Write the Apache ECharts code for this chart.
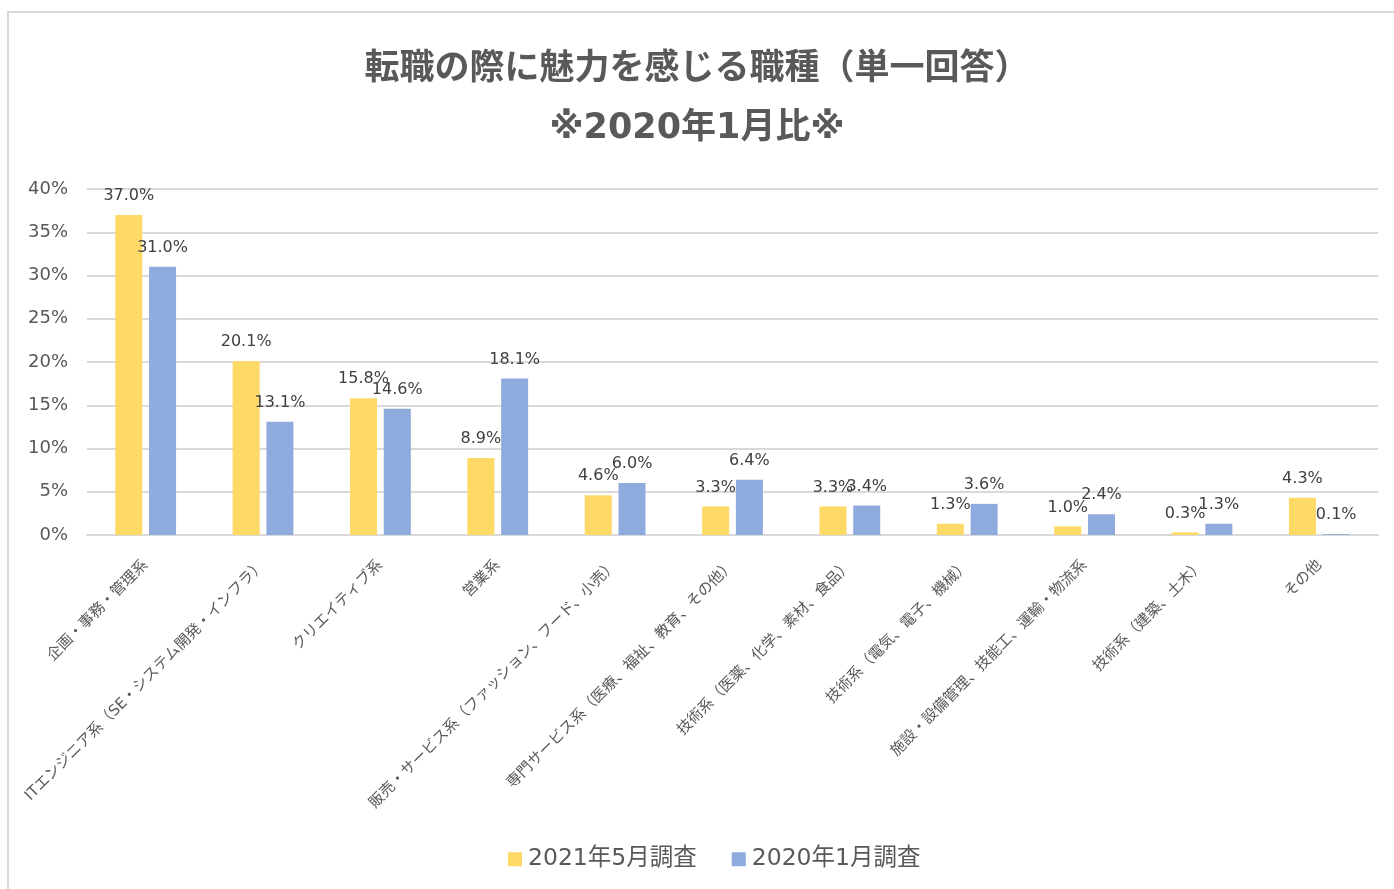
<!DOCTYPE html>
<html>
<head>
<meta charset="utf-8">
<script src="https://cdn.jsdelivr.net/npm/echarts@6/dist/echarts.min.js"></script>
<style>
	html, body { margin: 0; padding: 0; background: #fff; }
	#frame { position: absolute; left: 7px; top: 11px; width: 1400px; height: 900px; border: 2px solid #d9d9d9; box-sizing: border-box; }
	#chart { position: absolute; left: 0; top: 0; width: 1394px; height: 889px; }
</style>
</head>
<body>
<div id="frame"></div>
<div id="chart"></div>
<script>
const categories = [
	'企画・事務・管理系',
	'ITエンジニア系（SE・システム開発・インフラ）',
	'クリエイティブ系',
	'営業系',
	'販売・サービス系（ファッション、フード、小売）',
	'専門サービス系（医療、福祉、教育、その他）',
	'技術系（医薬、化学、素材、食品）',
	'技術系（電気、電子、機械）',
	'施設・設備管理、技能工、運輸・物流系',
	'技術系（建築、土木）',
	'その他'
];
const may2021 = [37.0, 20.1, 15.8, 8.9, 4.6, 3.3, 3.3, 1.3, 1.0, 0.3, 4.3];
const jan2020 = [31.0, 13.1, 14.6, 18.1, 6.0, 6.4, 3.4, 3.6, 2.4, 1.3, 0.1];
const seriesNames = ['2021年5月調査', '2020年1月調査'];
const yTicks = [0, 5, 10, 15, 20, 25, 30, 35, 40];

const fontFamily = "'DejaVu Sans', 'Noto Sans CJK JP', sans-serif";

const chart = echarts.init(document.getElementById('chart'));

const labelOpt = {
	show: true,
	position: 'top',
	distance: 11,
	color: '#404040',
	fontSize: 16,
	fontFamily: fontFamily,
	formatter: p => p.value.toFixed(1) + '%'
};

chart.setOption({
	backgroundColor: 'transparent',
	animation: false,
	title: {
		text: '転職の際に魅力を感じる職種（単一回答）\n※2020年1月比※',
		left: 'center',
		top: 35,
		textStyle: {
			color: '#595959',
			fontSize: 35,
			fontWeight: 'bold',
			fontFamily: fontFamily,
			lineHeight: 59
		}
	},
	legend: {
		bottom: 13,
		left: 503,
		itemWidth: 14,
		itemHeight: 14,
		itemGap: 35,
		icon: 'rect',
		textStyle: {
			color: '#595959',
			fontSize: 23.5,
			fontFamily: fontFamily,
			padding: [0, 0, 0, 1]
		},
		data: seriesNames
	},
	grid: {
		left: 87,
		right: 16,
		top: 189,
		bottom: 354,
		containLabel: false
	},
	xAxis: {
		type: 'category',
		data: categories,
		axisLine: { show: true, lineStyle: { color: '#d9d9d9', width: 2 } },
		axisTick: { show: false },
		axisLabel: {
			rotate: 45,
			interval: 0,
			color: '#595959',
			fontSize: 15,
			fontFamily: fontFamily,
			margin: 28
		}
	},
	yAxis: {
		type: 'value',
		min: yTicks[0],
		max: yTicks[yTicks.length - 1],
		interval: 5,
		axisLine: { show: false },
		axisTick: { show: false },
		splitLine: { lineStyle: { color: '#d9d9d9', width: 2 } },
		axisLabel: {
			color: '#595959',
			fontSize: 18,
			fontFamily: fontFamily,
			margin: 19,
			formatter: '{value}%'
		}
	},
	series: [
		{
			name: seriesNames[0],
			type: 'bar',
			data: may2021,
			barWidth: 27,
			barGap: '25%',
			itemStyle: { color: '#ffd966' },
			label: labelOpt
		},
		{
			name: seriesNames[1],
			type: 'bar',
			data: jan2020,
			barWidth: 27,
			barGap: '25%',
			itemStyle: { color: '#8faadc' },
			label: labelOpt
		}
	]
});
</script>
</body>
</html>
